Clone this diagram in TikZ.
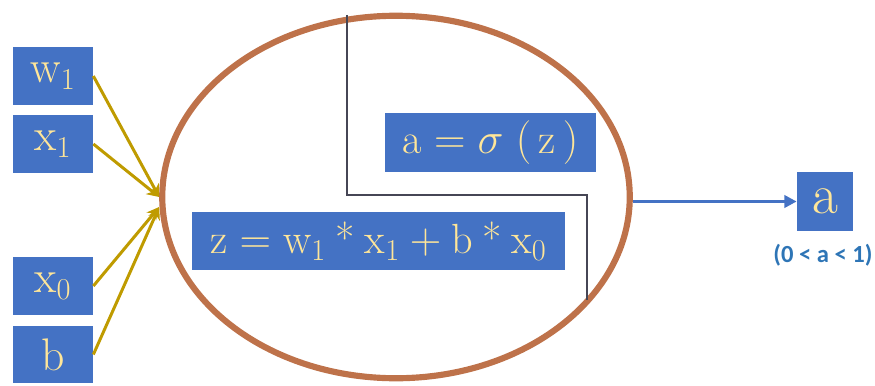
\documentclass[tikz,border=0pt]{standalone}
\usepackage{fontspec}
\newfontfamily\labelfont{Carlito}
\usetikzlibrary{shapes.geometric, arrows.meta}
\definecolor{nnblue}{RGB}{68, 114, 196}
\definecolor{nncream}{RGB}{255, 230, 153}
\definecolor{nnbrown}{RGB}{190, 114, 74}
\definecolor{nngold}{RGB}{191, 155, 0}
\definecolor{nngray}{RGB}{70, 70, 85}
\definecolor{nnteal}{RGB}{46, 117, 182}

\begin{document}
\begin{tikzpicture}[
    valbox/.style={fill=nnblue, text=nncream, inner sep=0pt, minimum width=1.6cm,
        minimum height=1.16cm, font=\fontsize{26}{30}\selectfont},
    eqbox/.style={fill=nnblue, text=nncream, inner sep=0pt, minimum height=1.17cm,
        font=\fontsize{24}{28}\selectfont},
    inarrow/.style={nngold, line width=1.7pt, -{Stealth[length=7pt, width=7pt]}},
    outarrow/.style={nnblue, line width=1.7pt, -{Triangle[length=7pt, width=7pt]}}
]
\useasboundingbox (0,0) rectangle (17.5,7.7);

% === Neurona ===
\node[ellipse, draw=nnbrown, line width=3.5pt, minimum width=9.35cm,
    minimum height=7.25cm, inner sep=0pt] (neuron) at (7.92,3.76) {};

% Separador entre suma y activacion
\coordinate (sepTop) at (6.94,7.4);
\coordinate (sepBend) at (6.94,3.8);
\coordinate (sepCorner) at (11.74,3.8);
\coordinate (sepBottom) at (11.74,1.7);
\draw[nngray, line width=0.6pt] (sepTop) -- (sepBend) -- (sepCorner) -- (sepBottom);

% Ecuaciones
\node[eqbox, minimum width=4.22cm] (act) at (9.81,4.85)
    {$\mathrm{a} = \sigma\;(\,\mathrm{z}\,)$};
\node[eqbox, minimum width=7.46cm] (sum) at (7.57,2.88)
    {$\mathrm{z} = \mathrm{w}_1 \mathbin{\textrm{*}} \mathrm{x}_1 + \mathrm{b} \mathbin{\textrm{*}} \mathrm{x}_0$};

% === Entradas ===
\node[valbox] (w1) at (1.06,6.18) {$\mathrm{w}_1$};
\node[valbox] (x1) at (1.06,4.82) {$\mathrm{x}_1$};
\node[valbox] (x0) at (1.06,1.98) {$\mathrm{x}_0$};
\node[valbox, minimum height=1.14cm] (b) at (1.06,0.61) {$\mathrm{b}$};

\foreach \n in {w1,x1} {
    \draw[inarrow] (\n.east) -- (neuron.west);
}
\foreach \n in {x0,b} {
    \draw[inarrow] (\n.east) -- ([yshift=-0.2cm]neuron.west);
}

% === Salida ===
\node[valbox, minimum width=1.12cm, minimum height=1.18cm,
    font=\fontsize{32}{36}\selectfont] (out) at (16.5,3.67) {a};
\node[text=nnteal, font=\labelfont\bfseries\fontsize{14}{16}\selectfont] (range)
    at (16.46,2.6) {(0 < a < 1)};
\draw[outarrow] (neuron.east |- out.west) -- (out.west);

\end{tikzpicture}
\end{document}
